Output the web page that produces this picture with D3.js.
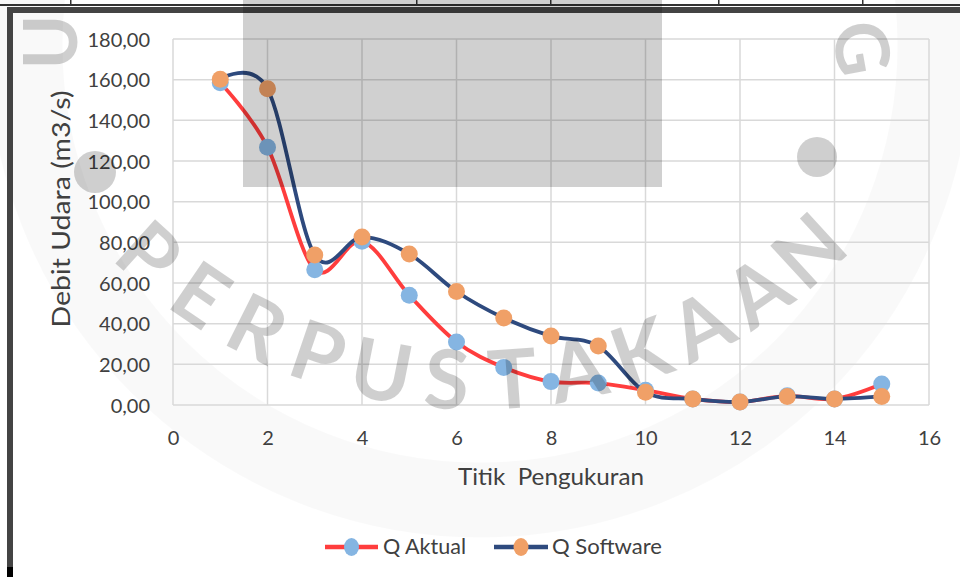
<!DOCTYPE html>
<html>
<head>
<meta charset="utf-8">
<script src="https://cdn.jsdelivr.net/npm/d3@7"></script>
<style>
  html, body { margin: 0; padding: 0; background: #fff; }
  svg { display: block; }
  text { font-family: Lato, "Open Sans", sans-serif; }
</style>
</head>
<body>
<svg id="chart" width="960" height="577"></svg>
<script>
// ---- data ----
const points = [1,2,3,4,5,6,7,8,9,10,11,12,13,14,15];
const qAktual = [158.5,126.8,66.5,80.5,54.0,31.0,18.5,11.5,10.8,7.3,3.0,1.5,4.5,3.0,10.3];
const qSoftware = [160.2,155.5,73.8,82.6,74.3,55.8,42.8,33.9,29.0,6.3,3.0,1.5,4.2,3.0,4.2];
const seriesNames = ["Q Aktual", "Q Software"];
const xTicks = [0,2,4,6,8,10,12,14,16];
const yTicks = [0,20,40,60,80,100,120,140,160,180];
const xTitle = "Titik  Pengukuran";
const yTitle = "Debit Udara (m3/s)";
const watermarkWord = "PERPUSTAKAAN";

const svg = d3.select("#chart");
const W = 960, H = 577;
const plot = {left: 173, right: 929, top: 39, bottom: 405};

const x = d3.scaleLinear().domain([0,16]).range([plot.left, plot.right]);
const y = d3.scaleLinear().domain([0,180]).range([plot.bottom, plot.top]);

// faint ring of watermark (background)
svg.append("circle").attr("cx", 480).attr("cy", 45).attr("r", 455)
  .attr("fill", "none").attr("stroke", "#000").attr("stroke-opacity", 0.025).attr("stroke-width", 75);

// gridlines
const grid = svg.append("g");
grid.selectAll("line.h").data(yTicks).join("line")
  .attr("x1", plot.left).attr("x2", plot.right)
  .attr("y1", d => y(d)).attr("y2", d => y(d))
  .attr("stroke", "#d9d9d9").attr("stroke-width", 1.5);
grid.selectAll("line.v").data(xTicks).join("line")
  .attr("y1", plot.top).attr("y2", plot.bottom)
  .attr("x1", d => x(d)).attr("x2", d => x(d))
  .attr("stroke", "#d9d9d9").attr("stroke-width", 1.5);

// axes (labels only)
const fmt = d => d3.format(".2f")(d).replace(".", ",");
const yAxis = d3.axisLeft(y).tickValues(yTicks).tickFormat(fmt).tickSize(0).tickPadding(23);
const gy = svg.append("g").attr("transform", `translate(${plot.left},0)`).call(yAxis);
gy.select(".domain").remove();
gy.selectAll("text").attr("font-size", 20).attr("fill", "#404040")
  .attr("font-family", "Lato, sans-serif").attr("dy", "0.35em");

const xAxis = d3.axisBottom(x).tickValues(xTicks).tickFormat(d3.format("d")).tickSize(0).tickPadding(26);
const gx = svg.append("g").attr("transform", `translate(0,${plot.bottom})`).call(xAxis);
gx.select(".domain").remove();
gx.selectAll("text").attr("font-size", 20).attr("fill", "#404040")
  .attr("font-family", "Lato, sans-serif");

// titles
svg.append("text").attr("transform", "translate(70,209) rotate(-90)")
  .attr("text-anchor", "middle").attr("font-size", 25).attr("fill", "#404040")
  .attr("textLength", 237).attr("lengthAdjust", "spacingAndGlyphs").text(yTitle);
svg.append("text").attr("x", 551).attr("y", 485)
  .attr("text-anchor", "middle").attr("font-size", 24).attr("fill", "#404040")
  .attr("xml:space", "preserve").style("white-space", "pre")
  .attr("textLength", 186).attr("lengthAdjust", "spacingAndGlyphs").text(xTitle);

// series
const colors = {line: ["#ff3d3d", "#2e4a7e"], marker: ["#85b5e2", "#f0a067"]};
const data = [qAktual, qSoftware];
const lineGen = d3.line().x(d => x(d[0])).y(d => y(d[1])).curve(d3.curveCardinal.tension(0));
data.forEach((vals, i) => {
  const pts = points.map((p, j) => [p, vals[j]]);
  svg.append("path").datum(pts).attr("d", lineGen)
    .attr("fill", "none").attr("stroke", colors.line[i]).attr("stroke-width", 3.8)
    .attr("stroke-linejoin", "round");
  svg.append("g").selectAll("circle").data(pts).join("circle")
    .attr("cx", d => x(d[0])).attr("cy", d => y(d[1])).attr("r", 8.5)
    .attr("fill", colors.marker[i]);
});

// legend
const legendItems = [
  {name: seriesNames[0], x1: 325, x2: 378, tx: 383, tl: 83},
  {name: seriesNames[1], x1: 494, x2: 548, tx: 552, tl: 110}
];
legendItems.forEach((it, i) => {
  svg.append("line").attr("x1", it.x1).attr("x2", it.x2).attr("y1", 547).attr("y2", 547)
    .attr("stroke", colors.line[i]).attr("stroke-width", 4.5);
  svg.append("ellipse").attr("cx", (it.x1 + it.x2) / 2).attr("cy", 547).attr("rx", 7.5).attr("ry", 9)
    .attr("fill", colors.marker[i]);
  svg.append("text").attr("x", it.tx).attr("y", 554).attr("font-size", 22).attr("fill", "#404040")
    .attr("textLength", it.tl).attr("lengthAdjust", "spacingAndGlyphs").text(it.name);
});

// watermark overlay (darkening)
const wm = svg.append("g").attr("fill", "#000").attr("fill-opacity", 0.19);
const cx0 = 477, cy0 = -110, rr = 490;
const a0 = 132, a1 = 47.4;
watermarkWord.split("").forEach((ch, i) => {
  const th = a0 - i * (a0 - a1) / (watermarkWord.length - 1);
  const rad = th * Math.PI / 180;
  const px = cx0 + rr * Math.cos(rad), py = cy0 + rr * Math.sin(rad);
  wm.append("text").attr("transform", `translate(${px},${py}) rotate(${th - 90})`)
    .attr("text-anchor", "middle").attr("dy", "0.36em")
    .attr("font-family", "'Open Sans', sans-serif").attr("font-weight", 700)
    .attr("font-size", 82).text(ch);
});
wm.append("text").attr("transform", "translate(50,42) rotate(-90)")
  .attr("text-anchor", "middle").attr("dy", "0.36em")
  .attr("font-family", "'Open Sans', sans-serif").attr("font-weight", 700).attr("font-size", 74).text("U");
wm.append("text").attr("transform", "translate(862,48) rotate(80)")
  .attr("text-anchor", "middle").attr("dy", "0.36em")
  .attr("font-family", "'Open Sans', sans-serif").attr("font-weight", 700).attr("font-size", 74).text("G");
wm.append("circle").attr("cx", 95).attr("cy", 172).attr("r", 21);
wm.append("circle").attr("cx", 817).attr("cy", 157).attr("r", 20);

// frame pieces at top / left
svg.append("rect").attr("x", 0).attr("y", 4).attr("width", W).attr("height", 2).attr("fill", "#333");
[70, 416, 550, 718, 862].forEach(v => {
  svg.append("rect").attr("x", v).attr("y", 0).attr("width", 1.5).attr("height", 5).attr("fill", "#333");
});
svg.append("rect").attr("x", 7).attr("y", 7).attr("width", W - 7).attr("height", 6).attr("fill", "#444");
svg.append("rect").attr("x", 7).attr("y", 7).attr("width", 6).attr("height", H - 7).attr("fill", "#444");
svg.append("rect").attr("x", 7).attr("y", 567).attr("width", 6).attr("height", 10).attr("fill", "#000");

// grey overlay rectangle
svg.append("rect").attr("x", 243).attr("y", 0).attr("width", 419).attr("height", 187)
  .attr("fill", "#000").attr("fill-opacity", 0.185);
</script>
</body>
</html>
